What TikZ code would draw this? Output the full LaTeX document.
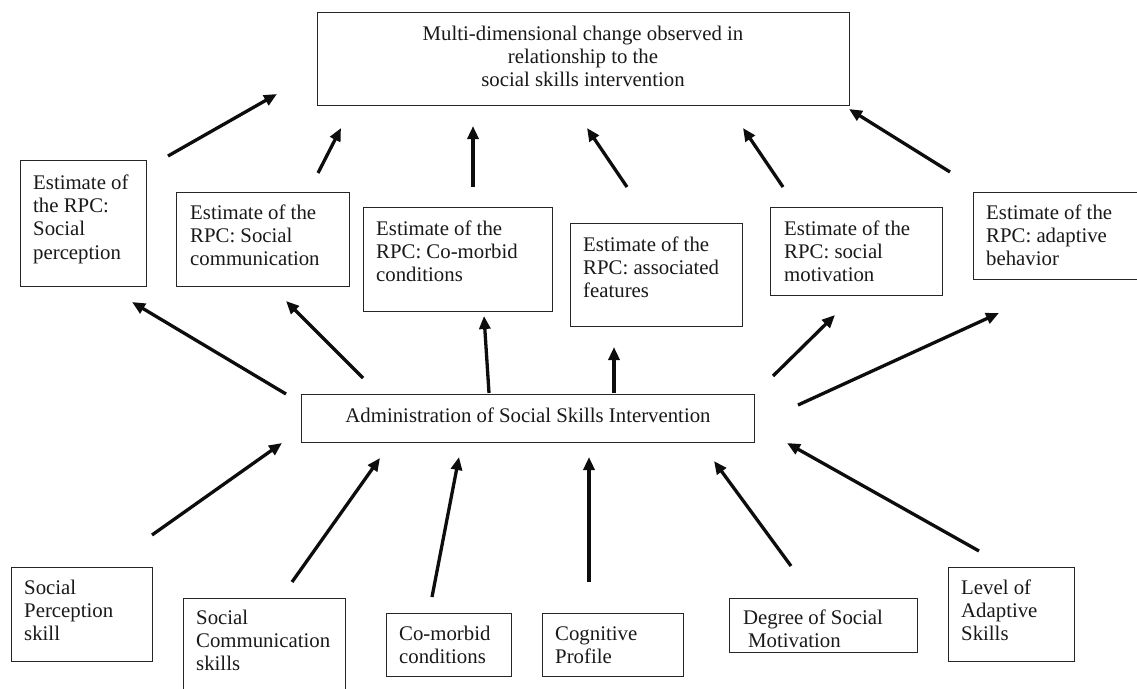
\documentclass[tikz,border=0pt]{standalone}
\usepackage{fontspec}
\setmainfont{Liberation Serif}
\usetikzlibrary{arrows.meta}
\tikzset{
  box/.style={draw=black!85, line width=1.4pt, fill=none, inner sep=0pt, anchor=north west},
  txt/.style={font=\fontsize{20.8}{23.4}\selectfont, align=left, inner sep=0pt, anchor=north west, text=black!90},
  arr/.style={line width=3.3pt, black!95, -{Triangle[length=13pt,width=11pt]}},
}
\begin{document}
\begin{tikzpicture}[x=1pt,y=-1pt]
\useasboundingbox (0,0) rectangle (1137,688);
\clip (0,0) rectangle (1137,688);
\fill[white] (0,0) rectangle (1137,688);
% top box
\node[box, minimum width=532pt, minimum height=93pt] (top) at (317,12) {};
\node[txt, align=center, anchor=north] (toptxt) at (583,23.6) {\strut Multi-dimensional change observed in\\relationship to the\\social skills intervention};
% estimate boxes
\node[box, minimum width=126pt, minimum height=126pt] (e1) at (20,160) {};
\node[txt] (e1t) at (33,172.6) {\strut Estimate of\\the RPC:\\Social\\perception};
\node[box, minimum width=173pt, minimum height=94pt] (e2) at (176,192) {};
\node[txt] (e2t) at (190,202.6) {\strut Estimate of the\\RPC: Social\\communication};
\node[box, minimum width=189pt, minimum height=104pt] (e3) at (363,207) {};
\node[txt] (e3t) at (376,218.6) {\strut Estimate of the\\RPC: Co-morbid\\conditions};
\node[box, minimum width=172pt, minimum height=103pt] (e4) at (570,223) {};
\node[txt] (e4t) at (583,234.6) {\strut Estimate of the\\RPC: associated\\features};
\node[box, minimum width=172pt, minimum height=88pt] (e5) at (770,207) {};
\node[txt] (e5t) at (784,218.6) {\strut Estimate of the\\RPC: social\\motivation};
\node[box, minimum width=180pt, minimum height=87pt] (e6) at (973,192) {};
\node[txt] (e6t) at (986,202.6) {\strut Estimate of the\\RPC: adaptive\\behavior};
% admin box
\node[box, minimum width=453pt, minimum height=48pt] (adm) at (301,394) {};
\node[txt, anchor=center] (admt) at (528,415) {Administration of Social Skills Intervention};
% bottom boxes
\node[box, minimum width=141pt, minimum height=94pt] (b1) at (11,567) {};
\node[txt] (b1t) at (24,577.6) {\strut Social\\Perception\\skill};
\node[box, minimum width=162pt, minimum height=100pt] (b2) at (183,598) {};
\node[txt] (b2t) at (196,607.6) {\strut Social\\Communication\\skills};
\node[box, minimum width=125pt, minimum height=63pt] (b3) at (386,613) {};
\node[txt] (b3t) at (399,623.6) {\strut Co-morbid\\conditions};
\node[box, minimum width=141pt, minimum height=63pt] (b4) at (542,613) {};
\node[txt] (b4t) at (555,623.6) {\strut Cognitive\\Profile};
\node[box, minimum width=188pt, minimum height=54pt] (b5) at (729,598) {};
\node[txt] (b5t) at (743,607.6) {\strut Degree of Social\\\hspace*{5pt}Motivation};
\node[box, minimum width=126pt, minimum height=94pt] (b6) at (948,567) {};
\node[txt] (b6t) at (961,577.6) {\strut Level of\\Adaptive\\Skills};
% arrow end points
\coordinate (u1s) at (168,156); \coordinate (u1e) at (277,94);
\coordinate (u2s) at (318,173); \coordinate (u2e) at (341,128);
\coordinate (u3s) at (473,187); \coordinate (u3e) at (473,126);
\coordinate (u4s) at (627,187); \coordinate (u4e) at (587,128);
\coordinate (u5s) at (783,187); \coordinate (u5e) at (743,128);
\coordinate (u6s) at (950,172); \coordinate (u6e) at (849,109);
\coordinate (m1s) at (286,394); \coordinate (m1e) at (132,302);
\coordinate (m2s) at (363,378); \coordinate (m2e) at (286,301);
\coordinate (m3s) at (489,393); \coordinate (m3e) at (484,316);
\coordinate (m4s) at (614,393); \coordinate (m4e) at (614,347);
\coordinate (m5s) at (773,376); \coordinate (m5e) at (835,315);
\coordinate (m6s) at (798,405); \coordinate (m6e) at (999,313);
\coordinate (l1s) at (152,535); \coordinate (l1e) at (282,443);
\coordinate (l2s) at (292,582); \coordinate (l2e) at (380,458);
\coordinate (l3s) at (432,597); \coordinate (l3e) at (459,457);
\coordinate (l4s) at (589,582); \coordinate (l4e) at (589,457);
\coordinate (l5s) at (791,566); \coordinate (l5e) at (714,461);
\coordinate (l6s) at (979,551); \coordinate (l6e) at (787,443);
% arrows
\foreach \a in {u1,u2,u3,u4,u5,u6,m1,m2,m3,m4,m5,m6,l1,l2,l3,l4,l5,l6}
  \draw[arr] (\a s) -- (\a e);
\end{tikzpicture}
\end{document}
